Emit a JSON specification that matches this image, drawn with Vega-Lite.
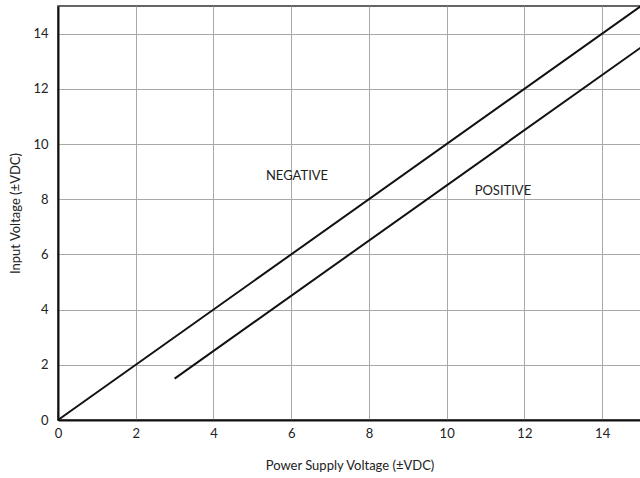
{
  "$schema": "https://vega.github.io/schema/vega-lite/v6.json",
  "autosize": "none",
  "padding": {"left": 58, "top": 6, "right": 0, "bottom": 58},
  "width": 583,
  "height": 414,
  "background": "white",
  "config": {
    "font": "Lato",
    "view": {"stroke": "#333", "strokeWidth": 1.5},
    "axis": {
      "labelFont": "Lato",
      "titleFont": "Lato",
      "labelFontSize": 13,
      "titleFontSize": 13,
      "titleFontWeight": "normal",
      "labelColor": "#222",
      "titleColor": "#222",
      "domainColor": "#111",
      "domainWidth": 2,
      "ticks": false,
      "labelFlush": false,
      "gridWidth": 1,
      "gridColor": {"condition": {"test": "datum.value % 2 === 0", "value": "#a8a8a8"}, "value": "#dcdcdc"},
      "gridOpacity": 1
    }
  },
  "datasets": {
    "lines": [
      {"series": "NEGATIVE", "x": 0, "y": 0},
      {"series": "NEGATIVE", "x": 15, "y": 15},
      {"series": "POSITIVE", "x": 3, "y": 1.5},
      {"series": "POSITIVE", "x": 15, "y": 13.5}
    ],
    "labels": [
      {"label": "NEGATIVE", "x": 5.35, "y": 8.85},
      {"label": "POSITIVE", "x": 10.72, "y": 8.3}
    ]
  },
  "layer": [
    {
      "data": {"name": "lines"},
      "mark": {"type": "line", "color": "#111", "strokeWidth": 2},
      "encoding": {
        "x": {
          "field": "x", "type": "quantitative",
          "scale": {"domain": [0, 15], "nice": false},
          "axis": {
            "title": "Power Supply Voltage (±VDC)",
            "values": [0,1,2,3,4,5,6,7,8,9,10,11,12,13,14,15],
            "labelExpr": "datum.value % 2 === 0 && datum.value < 15 ? datum.label : ''",
            "labelPadding": 7,
            "titlePadding": 19
          }
        },
        "y": {
          "field": "y", "type": "quantitative",
          "scale": {"domain": [0, 15], "nice": false},
          "axis": {
            "title": "Input Voltage (±VDC)",
            "values": [0,1,2,3,4,5,6,7,8,9,10,11,12,13,14,15],
            "labelExpr": "datum.value % 2 === 0 && datum.value < 15 ? datum.label : ''",
            "labelPadding": 10,
            "titlePadding": 10
          }
        },
        "detail": {"field": "series"}
      }
    },
    {
      "data": {"name": "labels"},
      "mark": {"type": "text", "align": "left", "baseline": "middle", "fontSize": 13, "font": "Lato", "color": "#222"},
      "encoding": {
        "x": {"field": "x", "type": "quantitative"},
        "y": {"field": "y", "type": "quantitative"},
        "text": {"field": "label"}
      }
    }
  ]
}
